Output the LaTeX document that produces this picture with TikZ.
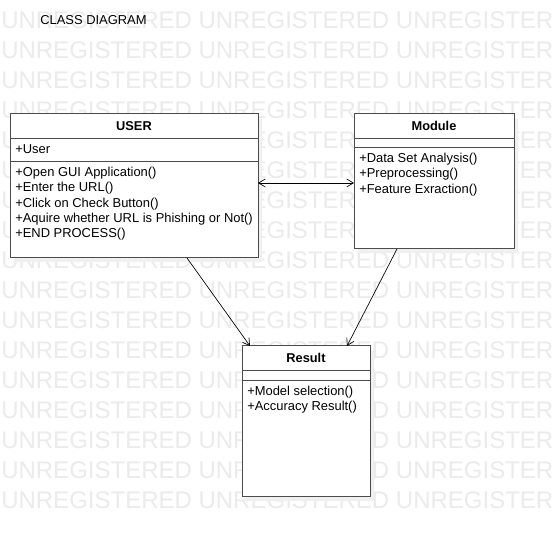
\documentclass[tikz,border=0pt]{standalone}
\usepackage{fontspec}
\setmainfont{Liberation Sans}
\usetikzlibrary{arrows.meta,shadows}
\begin{document}
\begin{tikzpicture}[x=0.75pt,y=-0.75pt,
  wmark/.style={anchor=base west,inner sep=0pt,text=black!8,font=\fontsize{18}{20}\selectfont},
  classbox/.style={draw=black!70,fill=white,line width=0.75pt,inner sep=0pt,outer sep=0pt,
     drop shadow={shadow xshift=3pt,shadow yshift=-3pt,fill=black!6,opacity=1}},
  divider/.style={draw=black!70,line width=0.75pt},
  head/.style={anchor=base,inner sep=0pt,font=\fontsize{9.6}{11}\selectfont\bfseries},
  member/.style={anchor=base west,inner sep=0pt,font=\fontsize{9.7}{11}\selectfont},
  arr/.style={draw=black,line width=0.5pt}]
\useasboundingbox (0,0) rectangle (554,538);
\fill[white] (0,0) rectangle (554,538);
% watermark
\begin{scope}
\clip (0,0) rectangle (554,538);
\foreach \k in {0,...,16}{
  \node[wmark] (wm\k) at (1,{28.5+30*\k}) {UNREGISTERED UNREGISTERED UNREGISTERED};
}
\end{scope}
% title
\node[member] (title) at (40,24.5) {CLASS DIAGRAM};
% boxes
\node[classbox,minimum width=186pt,minimum height=108pt] (user) at (134,186) {};
\node[classbox,minimum width=120pt,minimum height=101.25pt] (module) at (434,181.5) {};
\node[classbox,minimum width=96pt,minimum height=113.25pt] (result) at (306,421.5) {};
% dividers
\draw[divider] (10,139) -- (258,139);
\draw[divider] (10,162) -- (258,162);
\draw[divider] (354,139) -- (514,139);
\draw[divider] (354,148) -- (514,148);
\draw[divider] (242,371) -- (370,371);
\draw[divider] (242,381) -- (370,381);
% headers
\node[head] (userh) at (134,130.5) {USER};
\node[head] (moduleh) at (434,130.5) {Module};
\node[head] (resulth) at (306,362.5) {Result};
% members
\node[member] (ua) at (15,153.5) {+User};
\node[member] (um1) at (15,176.5) {+Open GUI Application()};
\node[member] (um2) at (15,191.8) {+Enter the URL()};
\node[member] (um3) at (15,207.1) {+Click on Check Button()};
\node[member] (um4) at (15,222.4) {+Aquire whether URL is Phishing or Not()};
\node[member] (um5) at (15,237.7) {+END PROCESS()};
\node[member] (mm1) at (359,162.5) {+Data Set Analysis()};
\node[member] (mm2) at (359,178) {+Preprocessing()};
\node[member] (mm3) at (359,193.5) {+Feature Exraction()};
\node[member] (rm1) at (247,395.5) {+Model selection()};
\node[member] (rm2) at (247,411) {+Accuracy Result()};
% connectors
\coordinate (cy) at (0,183);
\coordinate (c1) at (187,0);
\coordinate (c2) at (250,0);
\coordinate (c3) at (397,0);
\coordinate (c4) at (347,0);
\draw[arr,{Straight Barb[length=5pt,width=6pt]}-{Straight Barb[length=5pt,width=6pt]}] (user.east |- cy) -- (module.west |- cy);
\draw[arr,-{Straight Barb[length=5pt,width=6pt]}] (user.south -| c1) -- (result.north -| c2);
\draw[arr,-{Straight Barb[length=5pt,width=6pt]}] (module.south -| c3) -- (result.north -| c4);
\end{tikzpicture}
\end{document}
